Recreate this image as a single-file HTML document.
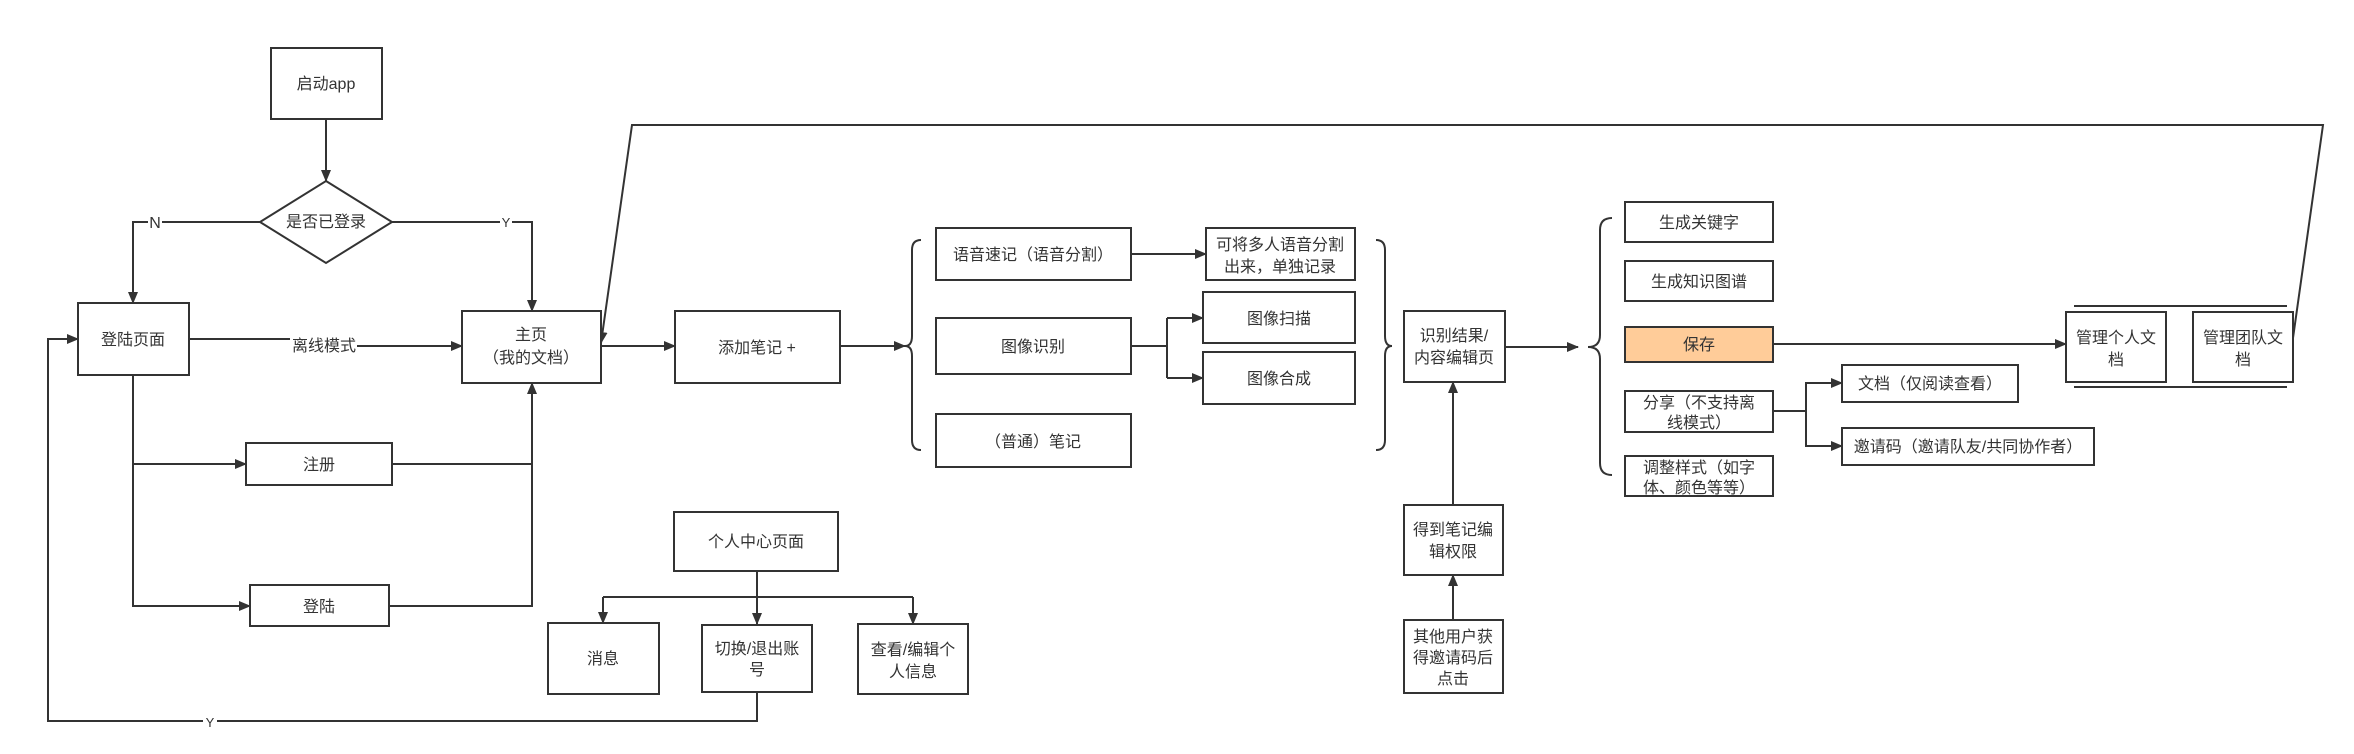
<!DOCTYPE html>
<html><head><meta charset="utf-8"><style>
html,body{margin:0;padding:0;background:#fff;}
svg{display:block;}
text{font-family:"Liberation Sans","Noto Sans CJK SC",sans-serif;font-size:16px;fill:#333;text-anchor:middle;}
.b{fill:#fff;stroke:#333;stroke-width:2;}
.l{fill:none;stroke:#333;stroke-width:2;}
</style></head><body>
<svg width="2354" height="754" viewBox="0 0 2354 754" xmlns="http://www.w3.org/2000/svg">
<defs><marker id="a" markerWidth="12" markerHeight="10" refX="11" refY="5" orient="auto" markerUnits="userSpaceOnUse"><path d="M0,0 L12,5 L0,10 Z" fill="#333"/></marker></defs>

<path class="l" d="M326 119 V181" marker-end="url(#a)"/>
<path class="l" d="M260 222 H133 V303" marker-end="url(#a)"/>
<path class="l" d="M392 222 H532 V311" marker-end="url(#a)"/>
<path class="l" d="M189 339 H290"/>
<path class="l" d="M357 346 H462" marker-end="url(#a)"/>
<path class="l" d="M133 375 V606 H250" marker-end="url(#a)"/>
<path class="l" d="M133 464 H246" marker-end="url(#a)"/>
<path class="l" d="M392 464 H532"/>
<path class="l" d="M389 606 H532 V383" marker-end="url(#a)"/>
<path class="l" d="M601 346 H675" marker-end="url(#a)"/>
<path class="l" d="M840 346 H905" marker-end="url(#a)"/>
<path class="l" d="M1131 254 H1206" marker-end="url(#a)"/>
<path class="l" d="M1131 346 H1167 M1167 318 V378"/>
<path class="l" d="M1167 318 H1203" marker-end="url(#a)"/>
<path class="l" d="M1167 378 H1203" marker-end="url(#a)"/>
<path class="l" d="M1505 347 H1578" marker-end="url(#a)"/>
<path class="l" d="M1773 344 H2066" marker-end="url(#a)"/>
<path class="l" d="M1773 411 H1806 V383 H1842" marker-end="url(#a)"/>
<path class="l" d="M1806 411 V446 H1842" marker-end="url(#a)"/>
<path class="l" d="M1453 620 V575" marker-end="url(#a)"/>
<path class="l" d="M1453 505 V382" marker-end="url(#a)"/>
<path class="l" d="M757 571 V624" marker-end="url(#a)"/>
<path class="l" d="M603 597 H913"/>
<path class="l" d="M603 597 V623" marker-end="url(#a)"/>
<path class="l" d="M913 597 V624" marker-end="url(#a)"/>
<path class="l" d="M757 692 V721 H48 V339 H78" marker-end="url(#a)"/>
<path class="l" d="M2293 338 L2323 125 H632 L601 343" marker-end="url(#a)"/>
<path class="l" d="M2074 306 H2287 M2074 387 H2287"/>

<path class="l" d="M921 240 Q912 240 912 250 L912 336 Q912 346 905 346 Q912 346 912 356 L912 440 Q912 450 921 450"/>
<path class="l" d="M1376 240 Q1385 240 1385 250 L1385 336 Q1385 346 1392 346 Q1385 346 1385 356 L1385 440 Q1385 450 1376 450"/>
<path class="l" d="M1612 218 Q1600 218 1600 230 L1600 335 Q1600 347 1588 347 Q1600 347 1600 359 L1600 463 Q1600 475 1612 475"/>

<rect x="148" y="213" width="14" height="18" fill="#fff"/><text x="155" y="228">N</text>
<rect x="500" y="214" width="12" height="16" fill="#fff"/><text x="506" y="227" style="font-size:13px">Y</text>
<text x="324" y="351">离线模式</text>
<rect x="203" y="713" width="14" height="16" fill="#fff"/><text x="210" y="727" style="font-size:13px">Y</text>

<rect class="b" x="271" y="48" width="111" height="71"/><text x="326" y="89">启动app</text>
<path class="b" d="M326 181 L392 222 L326 263 L260 222 Z"/><text x="326" y="227">是否已登录</text>
<rect class="b" x="78" y="303" width="111" height="72"/><text x="133" y="345">登陆页面</text>
<rect class="b" x="462" y="311" width="139" height="72"/><text x="531" y="340">主页</text><text x="531" y="363">（我的文档）</text>
<rect class="b" x="246" y="443" width="146" height="42"/><text x="319" y="470">注册</text>
<rect class="b" x="250" y="585" width="139" height="41"/><text x="319" y="612">登陆</text>
<rect class="b" x="675" y="311" width="165" height="72"/><text x="757" y="353">添加笔记 +</text>
<rect class="b" x="674" y="512" width="164" height="59"/><text x="756" y="547">个人中心页面</text>
<rect class="b" x="548" y="623" width="111" height="71"/><text x="603" y="664">消息</text>
<rect class="b" x="702" y="625" width="110" height="67"/><text x="757" y="654">切换/退出账</text><text x="757" y="675">号</text>
<rect class="b" x="858" y="624" width="110" height="70"/><text x="913" y="655">查看/编辑个</text><text x="913" y="677">人信息</text>
<rect class="b" x="936" y="228" width="195" height="52"/><text x="1033" y="260">语音速记（语音分割）</text>
<rect class="b" x="936" y="318" width="195" height="56"/><text x="1033" y="352">图像识别</text>
<rect class="b" x="936" y="414" width="195" height="53"/><text x="1033" y="447">（普通）笔记</text>
<rect class="b" x="1206" y="228" width="149" height="52"/><text x="1280" y="250">可将多人语音分割</text><text x="1280" y="272">出来，单独记录</text>
<rect class="b" x="1203" y="292" width="152" height="51"/><text x="1279" y="324">图像扫描</text>
<rect class="b" x="1203" y="352" width="152" height="52"/><text x="1279" y="384">图像合成</text>
<rect class="b" x="1404" y="311" width="101" height="71"/><text x="1454" y="341">识别结果/</text><text x="1454" y="363">内容编辑页</text>
<rect class="b" x="1404" y="505" width="99" height="70"/><text x="1453" y="535">得到笔记编</text><text x="1453" y="557">辑权限</text>
<rect class="b" x="1404" y="620" width="99" height="73"/><text x="1453" y="642">其他用户获</text><text x="1453" y="663">得邀请码后</text><text x="1453" y="684">点击</text>
<rect class="b" x="1625" y="202" width="148" height="40"/><text x="1699" y="228">生成关键字</text>
<rect class="b" x="1625" y="261" width="148" height="40"/><text x="1699" y="287">生成知识图谱</text>
<rect x="1625" y="327" width="148" height="35" fill="#FFCC99" stroke="#333" stroke-width="2"/><text x="1699" y="350">保存</text>
<rect class="b" x="1625" y="391" width="148" height="41"/><text x="1699" y="408">分享（不支持离</text><text x="1699" y="428">线模式）</text>
<rect class="b" x="1625" y="456" width="148" height="40"/><text x="1699" y="473">调整样式（如字</text><text x="1699" y="493">体、颜色等等）</text>
<rect class="b" x="1842" y="365" width="176" height="37"/><text x="1930" y="389">文档（仅阅读查看）</text>
<rect class="b" x="1842" y="428" width="252" height="37"/><text x="1968" y="452">邀请码（邀请队友/共同协作者）</text>
<rect class="b" x="2066" y="312" width="100" height="70"/><text x="2116" y="343">管理个人文</text><text x="2116" y="365">档</text>
<rect class="b" x="2193" y="312" width="100" height="70"/><text x="2243" y="343">管理团队文</text><text x="2243" y="365">档</text>
</svg>
</body></html>
